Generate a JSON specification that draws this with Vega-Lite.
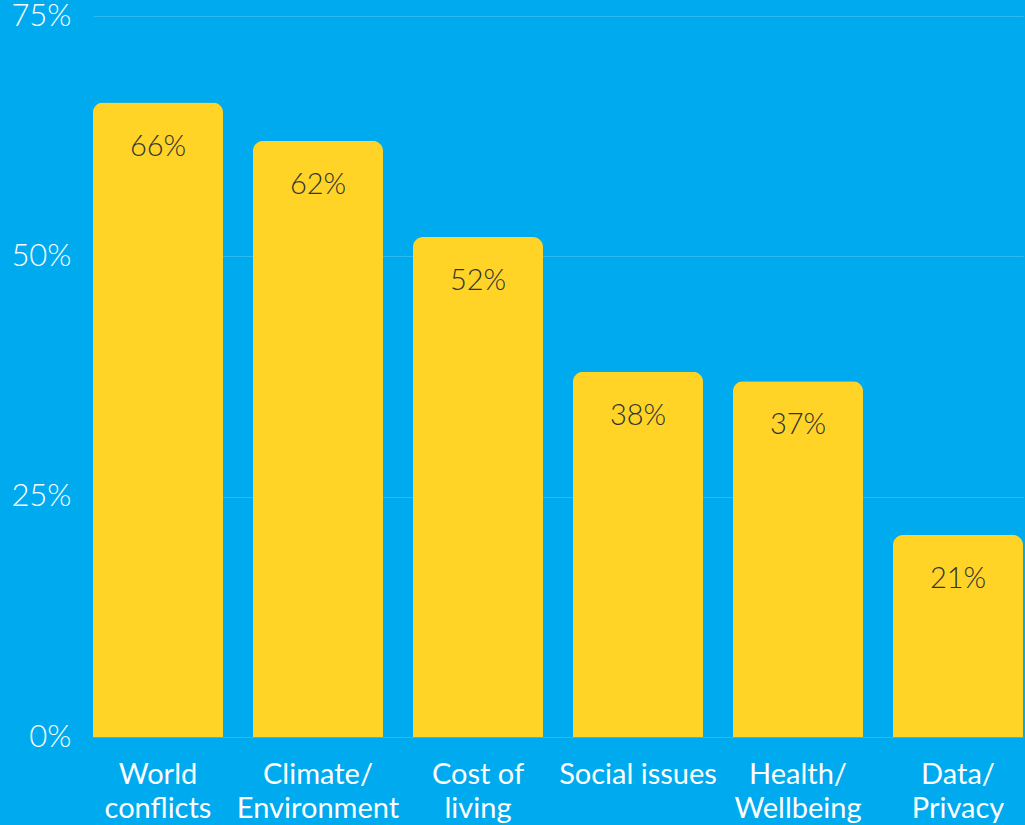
{
  "$schema": "https://vega.github.io/schema/vega-lite/v6.json",
  "width": 930,
  "height": 721,
  "autosize": {"type": "none"},
  "padding": {"left": 93, "top": 16, "right": 2, "bottom": 88},
  "background": "#00AAEE",
  "config": {
    "view": {"stroke": null},
    "font": "Lato"
  },
  "data": {
    "values": [
      {"topic": "World|conflicts", "value": 66},
      {"topic": "Climate/|Environment", "value": 62},
      {"topic": "Cost of|living", "value": 52},
      {"topic": "Social issues", "value": 38},
      {"topic": "Health/|Wellbeing", "value": 37},
      {"topic": "Data/|Privacy", "value": 21}
    ]
  },
  "encoding": {
    "x": {
      "field": "topic",
      "type": "nominal",
      "sort": null,
      "scale": {"paddingInner": 0.1875, "paddingOuter": 0},
      "axis": {
        "title": null,
        "domain": false,
        "ticks": false,
        "labelAngle": 0,
        "labelFont": "Lato",
        "labelFontSize": 29,
        "labelColor": "#FFFFFF",
        "labelPadding": 23,
        "labelLineHeight": 34,
        "labelBaseline": "top",
        "labelExpr": "split(datum.label, '|')"
      }
    },
    "y": {
      "field": "value",
      "type": "quantitative",
      "scale": {"domain": [0, 75]},
      "axis": {
        "title": null,
        "values": [0, 25, 50, 75],
        "labelExpr": "datum.value + '%'",
        "domain": false,
        "ticks": false,
        "labelFont": "Lato",
        "labelFontWeight": 300,
        "labelFontSize": 31,
        "labelColor": "#FFFFFF",
        "labelPadding": 22,
        "gridColor": "#2CB8F0",
        "gridWidth": 1
      }
    }
  },
  "layer": [
    {
      "mark": {"type": "bar", "color": "#FFD426", "cornerRadiusTopLeft": 10, "cornerRadiusTopRight": 10}
    },
    {
      "transform": [{"calculate": "datum.value + '%'", "as": "label"}],
      "mark": {"type": "text", "baseline": "middle", "dy": 44, "font": "Lato", "fontWeight": 300, "fontSize": 29, "color": "#333333"},
      "encoding": {
        "text": {"field": "label", "type": "nominal"}
      }
    }
  ]
}
